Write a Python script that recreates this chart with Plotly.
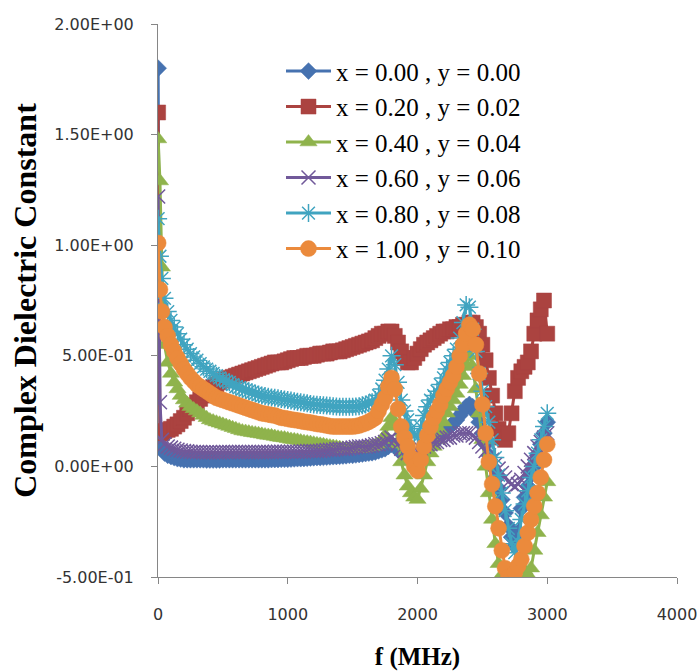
import plotly.graph_objects as go

# ---------------- data ----------------
FREQ_MHZ = [
    1, 15, 30,
    50, 75, 100, 125, 150, 175, 200, 225, 250, 275,
    300, 325, 350, 375, 400, 425, 450, 475, 500, 525,
    550, 575, 600, 625, 650, 675, 700, 725, 750, 775,
    800, 825, 850, 875, 900, 925, 950, 975, 1000, 1025,
    1050, 1075, 1100, 1125, 1150, 1175, 1200, 1225, 1250, 1275,
    1300, 1325, 1350, 1375, 1400, 1425, 1450, 1475, 1500, 1525,
    1550, 1575, 1600, 1625, 1650,
    1675, 1700, 1725, 1750, 1775, 1800,
    1825, 1850, 1875, 1900, 1925, 1950, 1975, 2000,
    2025, 2050, 2075, 2100, 2125, 2150, 2175, 2200,
    2225, 2250, 2275, 2300, 2325, 2350, 2375, 2400,
    2425, 2450, 2475, 2500, 2525, 2550, 2575, 2600,
    2625, 2650, 2675, 2700, 2725, 2750, 2775, 2800,
    2825, 2850, 2875, 2900, 2925, 2950, 2975, 3000,
]

S_X000 = [
    1.80, 0.10, 0.08,
    0.06, 0.05, 0.045, 0.04, 0.035, 0.033, 0.03, 0.03, 0.03, 0.03,
    0.03, 0.03, 0.03, 0.029, 0.029, 0.029, 0.029, 0.029, 0.03, 0.03,
    0.03, 0.03, 0.03, 0.03, 0.03, 0.03, 0.03, 0.03, 0.03, 0.03,
    0.03, 0.03, 0.03, 0.031, 0.031, 0.031, 0.032, 0.032, 0.032, 0.033,
    0.034, 0.035, 0.035, 0.036, 0.037, 0.038, 0.039, 0.04, 0.04, 0.041,
    0.042, 0.043, 0.044, 0.045, 0.046, 0.047, 0.048, 0.05, 0.05, 0.052,
    0.054, 0.056, 0.058, 0.06, 0.062,
    0.065, 0.07, 0.075, 0.08, 0.09, 0.10,
    0.09, 0.08, 0.06, 0.05, 0.04, 0.03, 0.03, 0.03,
    0.04, 0.06, 0.075, 0.09, 0.105, 0.12, 0.135, 0.15,
    0.165, 0.18, 0.195, 0.21, 0.23, 0.25, 0.27, 0.28,
    0.27, 0.24, 0.20, 0.15, 0.10, 0.05, 0.00, -0.05,
    -0.10, -0.15, -0.21, -0.27, -0.32, -0.36, -0.30, -0.19,
    -0.14, -0.09, -0.04, 0.00, 0.05, 0.10, 0.15, 0.20,
]

S_X020 = [
    1.60, 0.15, 0.15,
    0.16, 0.165, 0.17, 0.18, 0.19, 0.205, 0.22, 0.24, 0.26, 0.275,
    0.29, 0.305, 0.32, 0.335, 0.35, 0.36, 0.37, 0.38, 0.39, 0.395,
    0.40, 0.405, 0.41, 0.415, 0.42, 0.425, 0.43, 0.435, 0.44, 0.445,
    0.45, 0.455, 0.46, 0.465, 0.47, 0.47, 0.47, 0.475, 0.48, 0.485,
    0.49, 0.49, 0.49, 0.495, 0.50, 0.50, 0.50, 0.505, 0.51, 0.51,
    0.51, 0.515, 0.52, 0.52, 0.52, 0.525, 0.53, 0.535, 0.54, 0.545,
    0.55, 0.555, 0.56, 0.565, 0.57,
    0.58, 0.59, 0.60, 0.60, 0.61, 0.61,
    0.59, 0.56, 0.52, 0.49, 0.47, 0.47, 0.49, 0.51,
    0.53, 0.55, 0.56, 0.57, 0.58, 0.59, 0.60, 0.61,
    0.61, 0.62, 0.62, 0.63, 0.63, 0.64, 0.64, 0.65,
    0.65, 0.63, 0.60, 0.55, 0.48, 0.40, 0.32, 0.24,
    0.17, 0.13, 0.12, 0.15, 0.24, 0.34, 0.40, 0.43,
    0.45, 0.47, 0.52, 0.60, 0.66, 0.71, 0.75, 0.60,
]

S_X040 = [
    1.48, 1.29, 0.90,
    0.55, 0.47, 0.42, 0.38, 0.35, 0.32, 0.30, 0.285, 0.27, 0.26,
    0.25, 0.24, 0.23, 0.22, 0.21, 0.205, 0.20, 0.195, 0.19, 0.185,
    0.18, 0.175, 0.17, 0.165, 0.16, 0.158, 0.155, 0.152, 0.15, 0.148,
    0.145, 0.142, 0.14, 0.138, 0.135, 0.132, 0.13, 0.128, 0.125, 0.122,
    0.12, 0.118, 0.115, 0.112, 0.11, 0.108, 0.105, 0.102, 0.10, 0.098,
    0.095, 0.092, 0.09, 0.088, 0.085, 0.082, 0.08, 0.08, 0.08, 0.08,
    0.08, 0.082, 0.085, 0.088, 0.09,
    0.095, 0.10, 0.12, 0.14, 0.18, 0.22,
    0.19, 0.10, 0.02, -0.04, -0.09, -0.12, -0.14, -0.15,
    -0.10, -0.04, 0.02, 0.06, 0.09, 0.12, 0.16, 0.20,
    0.24, 0.27, 0.30, 0.33, 0.37, 0.41, 0.46, 0.50,
    0.45, 0.35, 0.24, 0.12, 0.00, -0.12, -0.24, -0.35,
    -0.44, -0.49, -0.50, -0.49, -0.47, -0.45, -0.45, -0.46,
    -0.47, -0.49, -0.46, -0.38, -0.30, -0.22, -0.14, -0.07,
]

S_X060 = [
    1.22, 0.29, 0.12,
    0.10, 0.09, 0.085, 0.08, 0.075, 0.072, 0.07, 0.068, 0.066, 0.065,
    0.065, 0.065, 0.064, 0.064, 0.064, 0.064, 0.064, 0.064, 0.065, 0.065,
    0.065, 0.065, 0.065, 0.065, 0.065, 0.065, 0.065, 0.065, 0.065, 0.065,
    0.065, 0.065, 0.065, 0.065, 0.066, 0.066, 0.066, 0.066, 0.066, 0.066,
    0.066, 0.066, 0.067, 0.068, 0.07, 0.07, 0.07, 0.07, 0.07, 0.072,
    0.074, 0.075, 0.075, 0.078, 0.08, 0.08, 0.08, 0.082, 0.085, 0.088,
    0.09, 0.09, 0.09, 0.092, 0.095,
    0.10, 0.10, 0.105, 0.11, 0.12, 0.13,
    0.12, 0.10, 0.08, 0.07, 0.06, 0.06, 0.06, 0.07,
    0.08, 0.09, 0.10, 0.10, 0.11, 0.11, 0.12, 0.12,
    0.13, 0.13, 0.14, 0.14, 0.15, 0.15, 0.15, 0.15,
    0.14, 0.13, 0.11, 0.09, 0.07, 0.05, 0.03, 0.01,
    -0.01, -0.03, -0.05, -0.07, -0.08, -0.09, -0.08, -0.06,
    -0.03, 0.00, 0.03, 0.06, 0.09, 0.11, 0.13, 0.15,
]

S_X080 = [
    1.12, 0.95, 0.85,
    0.76, 0.70, 0.66, 0.63, 0.60, 0.575, 0.55, 0.53, 0.51, 0.495,
    0.48, 0.465, 0.45, 0.44, 0.43, 0.42, 0.41, 0.40, 0.39, 0.385,
    0.38, 0.37, 0.36, 0.355, 0.35, 0.345, 0.34, 0.335, 0.33, 0.325,
    0.32, 0.318, 0.315, 0.312, 0.31, 0.308, 0.305, 0.302, 0.30, 0.298,
    0.295, 0.292, 0.29, 0.288, 0.285, 0.282, 0.28, 0.279, 0.278, 0.276,
    0.275, 0.274, 0.272, 0.271, 0.27, 0.27, 0.27, 0.27, 0.27, 0.271,
    0.272, 0.276, 0.28, 0.285, 0.29,
    0.30, 0.32, 0.35, 0.39, 0.44, 0.50,
    0.46, 0.38, 0.30, 0.25, 0.21, 0.17, 0.14, 0.13,
    0.18, 0.23, 0.27, 0.30, 0.32, 0.34, 0.37, 0.40,
    0.44, 0.47, 0.50, 0.53, 0.58, 0.65, 0.73, 0.72,
    0.62, 0.52, 0.42, 0.34, 0.27, 0.20, 0.12, 0.04,
    -0.04, -0.12, -0.20, -0.28, -0.35, -0.39, -0.34, -0.24,
    -0.17, -0.11, -0.05, 0.00, 0.06, 0.12, 0.18, 0.24,
]

S_X100 = [
    1.01, 0.80, 0.70,
    0.63, 0.59, 0.55, 0.52, 0.49, 0.465, 0.44, 0.42, 0.40, 0.385,
    0.37, 0.36, 0.35, 0.34, 0.33, 0.32, 0.31, 0.305, 0.30, 0.295,
    0.29, 0.285, 0.28, 0.275, 0.27, 0.265, 0.26, 0.255, 0.25, 0.245,
    0.24, 0.238, 0.235, 0.232, 0.23, 0.225, 0.22, 0.218, 0.215, 0.212,
    0.21, 0.208, 0.205, 0.202, 0.20, 0.198, 0.195, 0.192, 0.19, 0.188,
    0.185, 0.182, 0.18, 0.18, 0.18, 0.18, 0.18, 0.18, 0.18, 0.182,
    0.185, 0.19, 0.195, 0.202, 0.21,
    0.22, 0.25, 0.28, 0.31, 0.36, 0.40,
    0.35, 0.26, 0.18, 0.13, 0.09, 0.04, 0.00, -0.02,
    0.03, 0.09, 0.14, 0.18, 0.22, 0.25, 0.28, 0.32,
    0.35, 0.38, 0.41, 0.45, 0.50, 0.55, 0.60, 0.64,
    0.62, 0.55, 0.42, 0.28, 0.15, 0.02, -0.08, -0.18,
    -0.28, -0.38, -0.46, -0.50, -0.50, -0.48, -0.45, -0.42,
    -0.36, -0.30, -0.24, -0.18, -0.12, -0.05, 0.03, 0.10,
]

SERIES_NAMES = [
    "x = 0.00 , y = 0.00",
    "x = 0.20 , y = 0.02",
    "x = 0.40 , y = 0.04",
    "x = 0.60 , y = 0.06",
    "x = 0.80 , y = 0.08",
    "x = 1.00 , y = 0.10",
]
SERIES_VALUES = [S_X000, S_X020, S_X040, S_X060, S_X080, S_X100]

Y_TICK_VALUES = [-0.5, 0.0, 0.5, 1.0, 1.5, 2.0]
Y_TICK_LABELS = ["-5.00E-01", "0.00E+00", "5.00E-01", "1.00E+00", "1.50E+00", "2.00E+00"]
X_TICK_VALUES = [0, 1000, 2000, 3000, 4000]
X_TICK_LABELS = ["0", "1000", "2000", "3000", "4000"]

# ---------------- styles ----------------
COLORS = ["#4672B0", "#AB4340", "#8FB34C", "#71599A", "#40A4C0", "#EB8A3C"]
SYMBOLS = ["diamond", "square", "triangle-up", "x-thin-open", "asterisk-open", "circle"]
SIZES = [13, 15, 15, 14, 15, 16]

fig = go.Figure()
for i, (name, vals) in enumerate(zip(SERIES_NAMES, SERIES_VALUES)):
    open_sym = SYMBOLS[i].endswith("-open")
    fig.add_trace(go.Scatter(
        x=FREQ_MHZ, y=vals, name=name, mode="lines+markers",
        legendgroup=f"g{i}",
        line=dict(color=COLORS[i], width=3),
        marker=dict(symbol=SYMBOLS[i], size=SIZES[i], color=COLORS[i],
                    line=dict(color=COLORS[i], width=1.5 if open_sym else 0.5)),
    ))

TICK_FONT = dict(family="DejaVu Sans, Lato, sans-serif", size=16, color="#333333")
TITLE_FONT_FAMILY = "Liberation Serif, Times New Roman, serif"

fig.update_layout(
    width=700, height=671,
    margin=dict(l=158, r=23, t=24, b=94),
    paper_bgcolor="white", plot_bgcolor="white",
    showlegend=True,
    legend=dict(
        x=0.237, y=0.956, xanchor="left", yanchor="top",
        font=dict(family=TITLE_FONT_FAMILY, size=25, color="black"),
        bgcolor="rgba(0,0,0,0)", tracegroupgap=7, itemwidth=45,
        traceorder="normal",
    ),
    xaxis=dict(
        range=[0, 4000], tickvals=X_TICK_VALUES, ticktext=X_TICK_LABELS,
        showgrid=False, zeroline=False, showline=True, automargin=False,
        linecolor="#868686", linewidth=1,
        ticks="outside", ticklen=6, tickcolor="#868686", tickwidth=1,
        tickfont=TICK_FONT, ticklabelstandoff=17,
        title=dict(text="<b>f (MHz)</b>", standoff=38,
                   font=dict(family=TITLE_FONT_FAMILY, size=25, color="black")),
    ),
    yaxis=dict(
        range=[-0.5, 2.0], tickvals=Y_TICK_VALUES, ticktext=Y_TICK_LABELS,
        showgrid=False, zeroline=False, showline=True, automargin=False,
        linecolor="#868686", linewidth=1,
        ticks="outside", ticklen=6, tickcolor="#868686", tickwidth=1,
        tickfont=TICK_FONT, ticklabelstandoff=14,
        title=dict(text="<b>Complex Dielectric Constant</b>", standoff=8,
                   font=dict(family=TITLE_FONT_FAMILY, size=32, color="black")),
    ),
)

fig.write_html("out.html")
